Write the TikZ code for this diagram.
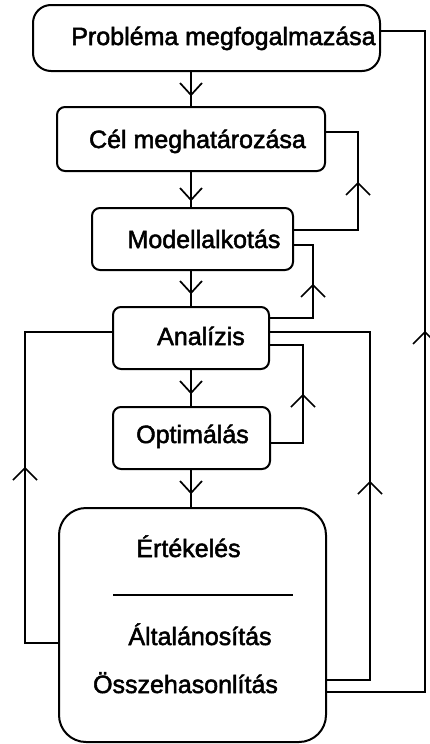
\documentclass[tikz,border=0pt]{standalone}
\usepackage{fontspec}
\newfontfamily\dfont{Liberation Sans}[FakeBold=2]
\usetikzlibrary{calc}
\tikzset{
  box/.style={draw, line width=2pt, inner sep=0pt},
  lbl/.style={anchor=base, inner sep=0pt, font=\dfont\fontsize{25}{30}\selectfont},
  conn/.style={line width=1.7pt, line join=miter},
  uparr/.pic={\draw[conn] (-12,12) -- (0,0) -- (12,12);},
  downarr/.pic={\draw[conn] (-11,-12) -- (0,0) -- (11,-12);}
}
\begin{document}
\begin{tikzpicture}[x=1pt,y=-1pt]
\useasboundingbox (0,0) rectangle (430,744);
% boxes
\node[box, rounded corners=18pt, minimum width=347pt, minimum height=66pt] (b1) at (206.5,38) {};
\node[box, rounded corners=8pt, minimum width=268pt, minimum height=64pt] (b2) at (191,139) {};
\node[box, rounded corners=8pt, minimum width=201pt, minimum height=62pt] (b3) at (192.5,239) {};
\node[box, rounded corners=8pt, minimum width=156pt, minimum height=62pt] (b4) at (191,338) {};
\node[box, rounded corners=8pt, minimum width=157pt, minimum height=62pt] (b5) at (191.5,438) {};
\node[box, rounded corners=27pt, minimum width=267pt, minimum height=234pt] (b6) at (192.5,625) {};
% texts
\node[lbl] (t1) at (223.5,45) {Probléma megfogalmazása};
\node[lbl] (t2) at (197.5,148) {Cél meghatározása};
\node[lbl] (t3) at (204,248) {Modellalkotás};
\node[lbl] (t4) at (201,345) {Analízis};
\node[lbl] (t5) at (192.5,443) {Optimálás};
\node[lbl] (t6) at (188.5,557) {Értékelés};
\node[lbl] (t7) at (200,645) {Általánosítás};
\node[lbl] (t8) at (185.5,693) {Összehasonlítás};
% separator
\coordinate (sepL) at (113,595);
\coordinate (sepR) at (293,595);
\draw[line width=1.5pt] (sepL) -- (sepR);
% down connectors
\draw[conn] (b2.north |- b1.south) -- (b2.north);
\draw[conn] (b2.south) -- (b2.south |- b3.north);
\draw[conn] (b2.south |- b3.south) -- (b2.south |- b4.north);
\draw[conn] (b4.south) -- (b4.south |- b5.north);
\draw[conn] (b4.south |- b5.south) -- (b4.south |- b6.north);
\pic at (191,95) {downarr};
\pic at (191,200) {downarr};
\pic at (191,293) {downarr};
\pic at (191,393) {downarr};
\pic at (191,493) {downarr};
% feedback columns
\coordinate (k1) at (425,0);
\coordinate (k2) at (358,0);
\coordinate (k3) at (313,0);
\coordinate (k4) at (25,0);
\coordinate (k5) at (370,0);
\coordinate (k6) at (303,0);
% c1
\coordinate (s1) at ($(b1.east)+(0,-7)$);
\coordinate (e1) at ($(b6.east)+(0,67)$);
\draw[conn] (s1) -- (s1 -| k1) -- (k1 |- e1) -- (e1);
% c2
\coordinate (s2) at ($(b2.east)+(0,-7)$);
\coordinate (e2) at ($(b3.east)+(0,-9)$);
\draw[conn] (s2) -- (s2 -| k2) -- (k2 |- e2) -- (e2);
% c3
\coordinate (s3) at ($(b3.east)+(0,6)$);
\coordinate (e3) at ($(b4.east)+(0,-20)$);
\draw[conn] (s3) -- (s3 -| k3) -- (k3 |- e3) -- (e3);
% c4
\coordinate (s4) at ($(b4.west)+(0,-6)$);
\coordinate (e4) at ($(b6.west)+(0,18)$);
\draw[conn] (s4) -- (s4 -| k4) -- (k4 |- e4) -- (e4);
% c5
\coordinate (s5) at ($(b4.east)+(0,-6)$);
\coordinate (e5) at ($(b6.east)+(0,55)$);
\draw[conn] (s5) -- (s5 -| k5) -- (k5 |- e5) -- (e5);
% c6
\coordinate (s6) at ($(b4.east)+(0,7)$);
\coordinate (e6) at ($(b5.east)+(0,5)$);
\draw[conn] (s6) -- (s6 -| k6) -- (k6 |- e6) -- (e6);
% up arrows
\pic at (425,332) {uparr};
\pic at (358,183) {uparr};
\pic at (313,285) {uparr};
\pic at (25,468) {uparr};
\pic at (370,482) {uparr};
\pic at (303,395) {uparr};
\end{tikzpicture}
\end{document}
